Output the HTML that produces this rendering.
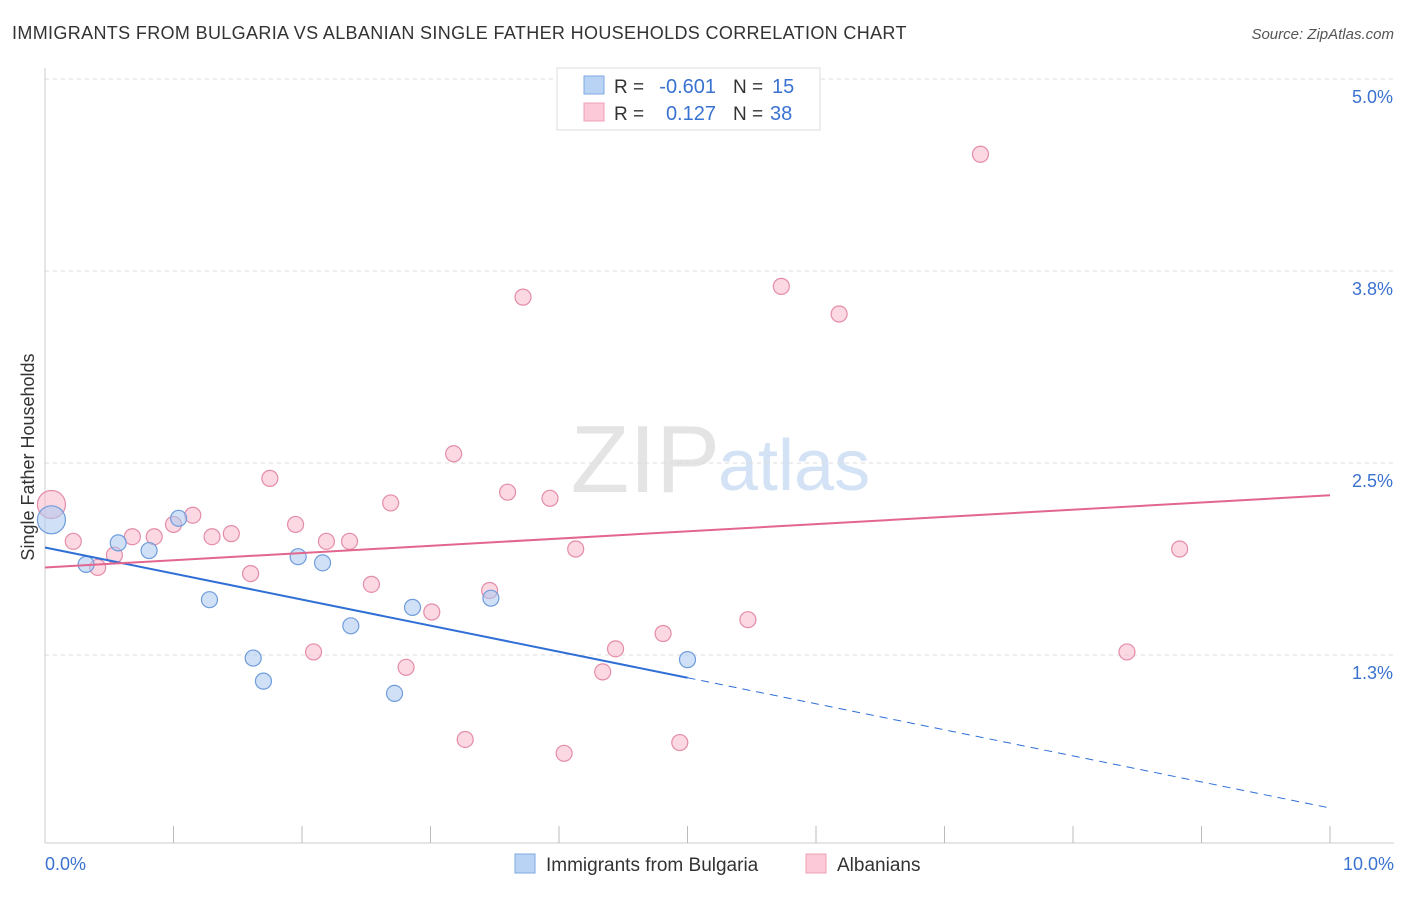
<!DOCTYPE html>
<html><head><meta charset="utf-8"><style>
body{margin:0;background:#fff;font-family:"Liberation Sans",sans-serif}
svg text{font-family:"Liberation Sans",sans-serif}
</style></head><body>
<svg id="c" width="1406" height="892">
<text x="12" y="39" font-size="18" fill="#333" letter-spacing="0.35">IMMIGRANTS FROM BULGARIA VS ALBANIAN SINGLE FATHER HOUSEHOLDS CORRELATION CHART</text>
<text x="1394" y="39" font-size="15" fill="#555" text-anchor="end" font-style="italic">Source: ZipAtlas.com</text>
<text x="34" y="457" font-size="18" fill="#333" text-anchor="middle" transform="rotate(-90 34 457)">Single Father Households</text>
<text x="720" y="492" font-size="96" fill="#e4e4e4" text-anchor="end" font-family="Liberation Serif">ZIP</text>
<text x="718" y="490" font-size="72" fill="#d3e2f5">atlas</text>
<g id="grid"></g><g id="marks"></g>
<g>
<rect x="557" y="68" width="263" height="62" fill="#fff" stroke="#ddd"/>
<rect x="584" y="76" width="20" height="18" fill="#b9d3f5" stroke="#7fa8e0"/>
<rect x="584" y="103" width="20" height="18" fill="#fbc9d7" stroke="#eca0b6"/>
<text x="614" y="93" font-size="19" fill="#333">R =</text>
<text x="716" y="93" font-size="20" fill="#3a72d0" text-anchor="end">-0.601</text>
<text x="733" y="93" font-size="19" fill="#333">N =</text>
<text x="772" y="93" font-size="20" fill="#3a72d0">15</text>
<text x="614" y="120" font-size="19" fill="#333">R =</text>
<text x="716" y="120" font-size="20" fill="#3a72d0" text-anchor="end">0.127</text>
<text x="733" y="120" font-size="19" fill="#333">N =</text>
<text x="770" y="120" font-size="20" fill="#3a72d0">38</text>
</g>
<g>
<rect x="515" y="854" width="20" height="19" fill="#b9d3f5" stroke="#7fa8e0"/>
<text x="546" y="871" font-size="19" fill="#333">Immigrants from Bulgaria</text>
<rect x="806" y="854" width="20" height="19" fill="#fbc9d7" stroke="#eca0b6"/>
<text x="837" y="871" font-size="19" fill="#333">Albanians</text>
</g>
</svg>
<script>
const yTicks=[5.0,3.75,2.5,1.25];
const yTickLabels=["5.0%","3.8%","2.5%","1.3%"];
const xTickLabels=["0.0%","10.0%"];
const blueX=[0.05,0.32,0.57,0.81,1.04,1.28,1.62,1.70,1.97,2.16,2.38,2.72,2.86,3.47,5.00];
const blueY=[2.13,1.84,1.98,1.93,2.14,1.61,1.23,1.08,1.89,1.85,1.44,1.00,1.56,1.62,1.22];
const pinkX=[0.05,0.22,0.41,0.54,0.68,0.85,1.00,1.15,1.30,1.45,1.60,1.75,1.95,2.09,2.19,2.37,2.54,2.69,2.81,3.01,3.18,3.27,3.46,3.60,3.72,3.93,4.04,4.13,4.34,4.44,4.81,4.94,5.47,5.73,6.18,7.28,8.42,8.83];
const pinkY=[2.23,1.99,1.82,1.90,2.02,2.02,2.10,2.16,2.02,2.04,1.78,2.40,2.10,1.27,1.99,1.99,1.71,2.24,1.17,1.53,2.56,0.70,1.67,2.31,3.58,2.27,0.61,1.94,1.14,1.29,1.39,0.68,1.48,3.65,3.47,4.51,1.27,1.94];
const blueTrend=[1.95,0.254];
const pinkTrend=[1.82,2.29];
const NS="http://www.w3.org/2000/svg";
const X=v=>45+v*128.5, Y=v=>79+(5-v)*153.6;
function mk(t,a,p){const e=document.createElementNS(NS,t);for(const k in a)e.setAttribute(k,a[k]);p.appendChild(e);return e;}
const g=document.getElementById('grid'),m=document.getElementById('marks');
yTicks.forEach((t,i)=>{
 const l=mk('line',{x1:45,x2:1394,y1:Y(t),y2:Y(t),stroke:'#ddd','stroke-dasharray':'4,4'},g);
 
 
 const tx=mk('text',{x:1393,y:Y(t)+24,'font-size':18,fill:'#3a72d0','text-anchor':'end'},g);
 tx.textContent=yTickLabels[i];
 
 
});
mk('line',{x1:45,x2:45,y1:68,y2:843,stroke:'#ccc'},g);
mk('line',{x1:45,x2:1394,y1:843,y2:843,stroke:'#ccc'},g);
for(let i=1;i<=10;i++){const t=mk('line',{x1:X(i),x2:X(i),y1:826,y2:843,stroke:'#bbb'},g);
 
 }
[[0,45,'start'],[10,1394,'end']].forEach((d,i)=>{const t=mk('text',{x:d[1],y:870,'font-size':18,fill:'#3a72d0','text-anchor':d[2]},g);t.textContent=xTickLabels[i];
 
 });
function pts(xs,ys,fill,stroke,name){xs.forEach((x,i)=>{const c=mk('circle',{cx:X(x),cy:Y(ys[i]),r:i==0?14:8,fill:fill,'fill-opacity':0.55,stroke:stroke,'stroke-width':1.2},m);
 
 });}
pts(pinkX,pinkY,'#f7b8cb','#e48ca8','albanians-point');
pts(blueX,blueY,'#a9c8f0','#6f9cdc','bulgaria-point');
const bAt=x=>blueTrend[0]+(blueTrend[1]-blueTrend[0])*x/10;
let l=mk('line',{x1:X(0),y1:Y(bAt(0)),x2:X(5),y2:Y(bAt(5)),stroke:'#2f6fd6','stroke-width':2},m);


l=mk('line',{x1:X(5),y1:Y(bAt(5)),x2:X(10),y2:Y(bAt(10)),stroke:'#2f6fd6','stroke-width':1,'stroke-dasharray':'8,6'},m);


l=mk('line',{x1:X(0),y1:Y(pinkTrend[0]),x2:X(10),y2:Y(pinkTrend[1]),stroke:'#e2668e','stroke-width':2},m);


</script>
</body></html>
